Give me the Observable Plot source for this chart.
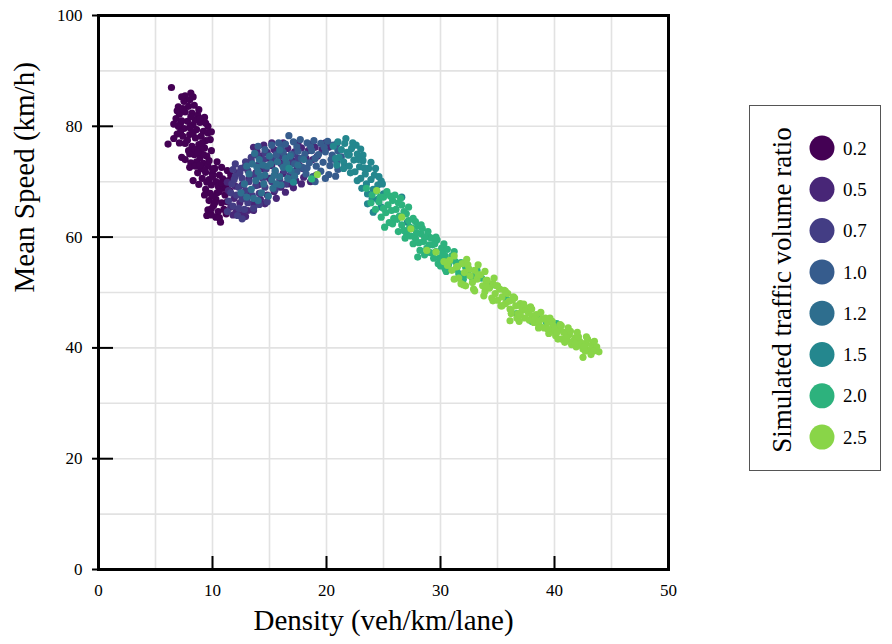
<!DOCTYPE html>
<html>
<head>
<meta charset="utf-8">
<script src="https://cdn.jsdelivr.net/npm/d3@7"></script>
<script src="https://cdn.jsdelivr.net/npm/@observablehq/plot@0.6"></script>
<style>
  html, body { margin: 0; padding: 0; background: #fff; }
  #wrap { position: relative; width: 892px; height: 644px; font-family: "Liberation Serif", "Times New Roman", serif; }
  #legend { position: absolute; left: 749px; top: 105px; }
  #chart svg text { font-family: "Liberation Serif", "Times New Roman", serif !important; }
</style>
</head>
<body>
<div id="wrap"><div id="chart"></div><div id="legend"></div></div>
<script>
// ---- data (density veh/km/lane, mean speed km/h) ----
const ratios = ["0.2", "0.5", "0.7", "1.0", "1.2", "1.5", "2.0", "2.5"];
const ratioValues = [0.2, 0.5, 0.7, 1.0, 1.2, 1.5, 2.0, 2.5];

const pts02 = [[6.4,87.0],[7.6,85.5],[7.5,84.5],[8.0,84.8],[7.9,83.6],[8.4,83.8],[7.1,82.2],[7.6,82.6],[8.2,82.4],[8.7,82.0],[6.8,81.4],
  [7.2,80.6],[7.8,80.9],[8.3,80.3],[8.9,80.7],[9.6,80.0],[7.5,79.6],[8.6,79.4],[9.2,79.1],[6.9,78.6],[7.4,78.2],[8.0,78.5],[8.5,77.9],[9.0,78.2],[9.6,78.8],
  [6.1,76.8],[7.6,76.9],[8.2,76.4],[8.8,76.7],[9.3,76.1],[7.9,75.6],[7.3,74.4],[8.4,74.9],[8.9,74.3],[9.5,74.6],[8.6,73.6],[9.2,73.3],
  [9.0,72.4],[9.6,72.8],[10.2,72.4],[10.8,72.6],[11.3,72.0],[8.7,71.6],[9.4,71.7],[10.0,71.5],[10.6,71.2],[8.3,70.2],[9.1,70.6],[9.7,70.4],[10.3,70.0],[10.9,70.5],[11.4,70.2],[9.9,69.4],[10.5,69.2],
  [9.4,68.6],[11.0,68.8],[9.8,67.9],[10.4,68.0],[11.1,67.6],[9.7,66.6],[10.3,66.8],[10.8,66.2],[10.1,65.7],[9.6,64.9],[10.5,64.6],[11.0,65.0],[9.5,63.9],[10.3,63.6],[10.7,62.7],
  [7.0,83.5],[8.1,86.0],[7.3,81.0],[8.5,81.2],[9.3,81.6],[7.0,80.0],[8.0,79.8],[9.4,80.6],[7.8,77.5],[8.3,78.9],[9.8,77.6],[6.6,77.8],[7.1,77.0],[8.5,75.8],[9.9,75.6],
  [7.6,74.0],[8.1,73.4],[9.7,73.8],[10.4,73.6],[8.0,72.6],[11.6,71.2],[9.5,69.9],[10.6,68.2],[10.0,67.4],[9.9,64.0],[10.6,63.5],[11.3,66.4],[11.2,69.2],[8.8,69.5],
  [10.0,72.3],[9.2,74.9],[8.1,81.7],[8.8,83.0],[7.2,79.0],[9.0,76.0],
  [7.3,85.3],[8.3,85.3],[6.9,82.8],[7.4,83.2],[8.9,81.4],[6.6,80.4],[8.2,75.2],[8.7,75.3],[9.4,77.4],[9.9,79.0],[9.1,77.0],[10.0,70.9],[10.8,69.8],
  [9.3,67.6],[10.2,66.2],[9.9,65.1],[11.5,68.4],[11.2,64.2],[8.5,72.8],[9.3,72.1],[8.0,75.0],[8.9,73.0]];

const pts05 = [[11.6,65.4],[12.1,64.6],[12.6,64.1],[13.1,64.8],[13.6,66.0],[14.2,66.8],[12.4,66.2],[11.9,67.0],[13.0,66.9],[14.8,67.6],[15.4,68.2],[16.0,69.0],[16.6,69.6],[17.3,70.2],[18.0,70.8],[11.4,68.4],[12.0,69.2],
  [12.2,71.6],[12.8,72.6],[13.4,73.8],[13.6,76.2],[14.2,74.6],[14.8,75.3],[15.4,75.8],[16.0,75.5],[16.6,76.0],[17.2,75.4],[17.8,76.1],[18.4,75.6],[19.0,76.2],[19.6,75.8],[16.3,74.6],[15.0,74.2],
  [12.6,69.4],[13.2,70.5],[13.8,71.6],[14.4,72.3],[15.2,72.9],[16.0,73.3],[17.0,73.8],[18.2,74.2],[19.2,74.6],[13.0,68.2],[14.0,69.4],[15.0,70.6],[16.2,71.5],[17.4,72.2],
  [11.8,64.0],[12.9,63.7],[13.6,64.8],[14.6,66.0],[15.6,67.0],[16.4,68.1],[17.1,68.9],[17.8,69.6],[18.6,70.0],[19.1,71.2],[12.5,67.9],[11.3,69.9],
  [13.9,75.5],[14.5,76.6],[15.2,77.0],[16.2,77.0],[17.5,76.9],[18.7,76.8],[19.9,77.0],[20.2,76.2],[18.8,74.0],[17.6,73.0]];

const pts07 = [[11.4,66.5],[11.8,65.6],[12.3,65.2],[11.6,68.0],[12.1,67.6],[12.6,66.9],[13.1,66.2],[11.7,69.6],[12.3,69.0],[12.9,68.4],[13.5,67.5],[14.1,67.9],
  [12.0,71.0],[12.6,70.6],[13.2,70.0],[13.8,69.3],[14.6,69.0],[12.5,72.4],[13.1,72.0],[13.7,71.2],[14.4,70.6],[15.2,70.0],[15.9,70.4],
  [13.3,73.5],[14.0,73.0],[14.7,72.3],[15.5,71.8],[16.3,72.0],[14.5,74.0],[15.3,73.9],[16.1,73.1],[16.9,73.5],[12.2,63.9],[12.8,65.0],[14.1,65.9],[17.5,74.2],[16.8,71.2],[15.6,75.0],[13.9,74.8],[12.0,73.2],
  [11.3,64.6],[12.6,63.3],[13.6,65.2],[14.8,66.4],[15.5,68.6],[16.4,69.6],[11.9,70.4],[12.4,71.6],[13.4,74.4],[14.6,75.2],[15.9,74.5],[17.2,75.0],[17.9,72.4],[12.9,73.6],[11.8,72.2]];

const pts10 = [[16.7,78.3],[15.2,76.6],[15.8,77.0],[16.4,76.8],[17.1,77.2],[17.7,77.6],[18.3,77.0],[18.9,77.4],[19.5,76.9],[20.1,77.3],[20.6,76.6],
  [15.6,74.8],[16.2,75.3],[16.9,74.9],[17.5,75.5],[18.1,75.0],[18.7,75.6],[19.3,74.9],[19.9,75.4],[20.5,74.8],[21.0,75.6],
  [16.5,73.0],[17.2,73.2],[17.9,72.6],[18.5,73.4],[19.1,72.8],[19.7,73.5],[20.3,72.9],[20.9,73.6],[18.2,71.4],[18.8,70.9],[19.5,71.9],[20.2,71.3],[21.0,72.2],[17.4,71.8],[14.6,75.8],[14.0,76.4],
  [16.0,76.1],[17.4,76.3],[18.6,76.3],[19.8,76.2],[20.9,76.8],[21.3,74.5],[20.8,71.0],[19.9,70.6],[19.0,70.0],[18.3,72.5],[20.4,74.0],[19.0,74.2],[17.8,74.2],[21.6,72.8],[16.8,70.4]];

const pts12 = [[12.8,69.6],[13.2,71.4],[13.4,68.6],[13.8,70.2],[13.9,72.6],[14.1,74.0],[14.3,68.0],[14.5,69.6],[14.6,71.2],[14.8,72.8],[15.0,74.6],[15.2,70.4],[15.3,68.8],[15.5,72.0],
  [15.7,73.6],[15.9,70.9],[16.0,69.4],[16.2,72.6],[16.4,74.2],[16.6,70.6],[13.5,73.2],[14.2,71.0],[15.1,73.2],[16.9,72.0],[13.0,67.2],[14.0,66.6],[17.5,73.0],[18.0,74.0],[12.5,68.0],
  [13.6,67.0],[14.9,67.4],[13.0,72.8],[13.7,75.1],[14.4,73.0],[15.6,69.6],[16.8,74.6],[17.2,71.0],[15.9,75.7],[14.0,71.8],[15.4,71.1],[16.5,73.3]];

const pts15 = [[20.6,76.4],[21.0,77.2],[21.3,75.8],[21.6,76.9],[21.1,74.4],[21.5,73.6],[21.9,74.8],[22.2,76.0],[22.0,72.8],[22.4,73.9],[22.7,75.0],[22.5,71.8],[22.9,72.7],[23.2,73.8],
  [23.0,70.6],[23.4,71.4],[23.7,72.4],[23.5,69.6],[23.9,70.4],[24.2,71.2],[24.1,68.6],[24.5,69.4],[24.8,70.1],[23.6,66.0],[24.1,64.5],[24.5,66.8],[22.3,77.0],[21.8,75.3],
  [26.6,67.2],[27.1,62.7],[16.7,72.4],[17.1,69.9],[25.0,67.8],[20.8,74.2],
  [21.7,77.8],[22.6,76.6],[23.0,75.9],[23.2,74.8],[23.9,73.5],[24.3,72.4],[24.6,70.9],[24.9,69.6],[22.1,71.6],[22.7,70.2],[23.1,68.8],[23.6,67.8],[24.0,66.9],[24.8,65.4],
  [21.5,72.4],[20.9,73.0],[22.8,74.0],[23.3,72.5],[22.0,74.9]];

const pts20 = [[23.5,68.8],[24.0,67.6],[24.4,68.3],[23.9,66.2],[24.6,66.4],[25.0,67.2],[25.4,65.8],[25.2,64.4],[25.8,66.6],[25.9,63.4],[26.1,65.0],[25.5,62.6],
  [26.4,63.8],[26.6,62.2],[26.8,64.6],[27.0,60.8],[27.2,63.0],[26.3,61.0],[27.5,61.6],[27.8,59.8],[28.0,62.0],[27.6,58.8],[28.3,60.6],
  [28.5,59.2],[28.8,58.0],[29.0,60.0],[28.6,56.8],[29.3,58.6],[29.6,57.4],[29.9,56.2],[30.1,58.0],[29.8,55.2],[30.4,56.6],[30.7,55.0],[31.0,56.6],[30.5,53.8],
  [31.4,54.2],[31.8,55.4],[32.1,53.2],[32.5,54.2],[32.8,52.6],[33.6,52.6],[34.4,51.2],[35.8,48.8],[36.7,46.2],[37.6,46.9],[38.6,45.8],[39.3,44.6],[40.2,44.4],[38.0,44.8],
  [33.2,54.0],[30.4,54.3],[18.7,70.5],
  [24.3,65.0],[24.8,63.6],[25.3,68.2],[25.7,64.8],[26.0,67.6],[26.3,66.2],[26.6,65.8],[27.0,64.2],[27.3,61.8],[27.6,63.4],[27.9,60.8],[28.1,59.0],[28.4,61.6],[28.2,57.6],
  [28.9,61.0],[29.2,59.8],[29.5,58.8],[29.1,57.2],[29.7,59.5],[30.2,57.0],[30.6,57.8],[30.0,54.8],[31.3,55.6],[31.6,53.4],[32.2,54.6],[32.0,52.4],[25.1,61.8],[26.9,59.8],[28.0,56.4],
  [24.7,67.2],[25.0,65.2],[25.6,67.4],[25.8,62.4],[26.2,63.2],[26.5,67.0],[26.8,61.2],[27.2,65.4],[27.4,60.2],[27.8,62.8],[28.3,62.2],[28.6,60.0],[29.0,58.6],[29.4,56.2],
  [29.6,60.0],[30.3,58.8],[31.2,57.4],[32.4,53.4],[33.0,53.2]];

const pts25 = [[19.2,71.3],[24.4,68.4],[26.6,63.6],[27.4,61.5],[28.8,57.6],[29.6,57.3],[30.6,54.9],[31.5,54.7],
  [30.8,55.8],[31.2,56.6],[31.4,54.6],[31.6,52.6],[31.9,55.2],[32.1,53.6],[32.4,55.0],[32.6,53.0],[32.8,51.8],[33.0,54.0],[33.2,52.4],
  [33.5,53.2],[33.7,51.2],[33.9,50.2],[34.1,52.2],[34.3,50.8],[34.6,51.6],[34.8,49.8],[35.0,48.6],[35.2,50.6],[35.4,49.2],
  [35.7,48.0],[35.9,49.8],[36.1,47.0],[36.3,48.6],[36.6,47.6],[36.8,46.2],[37.0,48.0],[37.2,46.8],[37.4,45.4],[36.9,44.8],
  [37.7,46.4],[38.0,45.8],[38.2,44.6],[38.4,46.0],[38.7,44.0],[38.9,45.2],[39.1,43.6],[39.4,44.6],[39.7,43.0],[39.9,44.0],[40.1,42.2],[40.4,43.4],
  [40.6,41.6],[40.8,42.8],[41.1,41.4],[41.3,42.4],[41.5,40.6],[41.8,41.8],[42.0,40.4],[42.2,41.2],[42.5,39.8],[42.5,38.3],
  [42.8,40.8],[43.0,39.6],[43.3,40.4],[43.6,39.8],[43.9,39.3],
  [31.0,54.0],[31.8,51.6],[32.0,51.4],[32.3,56.0],[32.9,50.6],[33.3,55.0],[33.9,53.8],[34.0,51.4],[34.5,49.0],[34.7,52.6],[35.0,51.2],[35.3,47.6],[35.6,50.4],[36.0,48.4],
  [36.2,46.2],[36.5,49.0],[36.7,45.4],[37.1,47.4],[37.5,47.2],[37.8,45.0],[37.9,47.4],[38.3,45.2],[38.6,43.6],[38.8,46.4],[39.2,45.4],[39.5,42.6],[39.8,44.8],[40.0,43.4],
  [40.3,41.6],[40.6,44.0],[40.9,41.0],[41.0,42.6],[41.4,43.0],[41.6,41.2],[41.9,40.2],[42.1,42.0],[42.4,40.8],[42.7,39.4],[42.9,41.6],[43.2,38.8],[43.4,41.0],[43.7,40.2],[36.1,44.9],
  [31.2,52.4],[32.2,51.2],[32.5,54.2],[33.0,50.3],[33.3,53.2],[33.8,49.4],[34.0,52.2],[34.6,48.5],[34.9,51.2],[35.4,47.6],[35.7,50.2],[36.2,46.7],[36.4,49.2],
  [37.0,45.9],[37.3,47.9],[38.0,47.0],[38.6,44.8],[39.4,43.4],[39.6,45.4],[40.2,42.8],[40.5,44.2],[41.0,41.8],[41.2,43.6],[41.8,40.8],[42.0,42.8],
  [42.6,40.2],[42.8,42.0],[43.4,39.4],[43.5,41.2],[30.3,55.6]];

const xTicks = [0, 10, 20, 30, 40, 50];
const yTicks = [0, 20, 40, 60, 80, 100];
const xGrid = [0, 5, 10, 15, 20, 25, 30, 35, 40, 45, 50];
const yGrid = [0, 10, 20, 30, 40, 50, 60, 70, 80, 90, 100];
const xLabel = "Density (veh/km/lane)";
const yLabel = "Mean Speed (km/h)";
const legendTitle = "Simulated traffic volume ratio";

// ---- build table ----
const series = [pts02, pts05, pts07, pts10, pts12, pts15, pts20, pts25];
const rows = series.flatMap((pts, i) => pts.map(([d, s]) => ({density: d, speed: s, ratio: ratios[i]})));
const colors = ratioValues.map(v => d3.interpolateViridis((v - 0.2) / 2.8));
const serif = "Liberation Serif, Times New Roman, serif";

const chart = Plot.plot({
  width: 892,
  height: 644,
  marginLeft: 98,
  marginRight: 224,
  marginTop: 15,
  marginBottom: 75,
  style: {fontFamily: serif, fontSize: "17px", color: "black", background: "white"},
  x: {domain: [0, 50]},
  y: {domain: [0, 100]},
  color: {type: "ordinal", domain: ratios, range: colors},
  marks: [
    Plot.gridX(xGrid, {stroke: "#e2e2e2", strokeOpacity: 1, strokeWidth: 1.6}),
    Plot.gridY(yGrid, {stroke: "#e2e2e2", strokeOpacity: 1, strokeWidth: 1.6}),
    Plot.dot(rows, {x: "density", y: "speed", fill: "ratio", r: 3.6}),
    Plot.frame({stroke: "black", strokeWidth: 3}),
    Plot.axisY(yTicks, {tickSize: 6, tickPadding: 10, label: null, strokeWidth: 2, fontSize: 17}),
    Plot.axisY(yTicks, {tickSize: -15, tickFormat: () => "", label: null, strokeWidth: 2}),
    Plot.axisX(xTicks, {tickSize: 0, tickPadding: 14, label: null, fontSize: 17}),
    Plot.axisX(xTicks, {tickSize: -13, tickFormat: () => "", label: null, strokeWidth: 2}),
    Plot.text([xLabel], {text: d => d, frameAnchor: "bottom", dy: 60, fontSize: 29}),
    Plot.text([yLabel], {text: d => d, frameAnchor: "left", rotate: -90, dx: -74, fontSize: 29})
  ]
});
document.getElementById("chart").appendChild(chart);

// ---- legend ----
const lw = 132, lh = 366;
const lsvg = d3.select("#legend").append("svg")
  .attr("width", lw).attr("height", lh)
  .style("font-family", serif);
lsvg.append("rect").attr("x", 0.5).attr("y", 0.5).attr("width", lw - 1).attr("height", lh - 1)
  .attr("fill", "white").attr("stroke", "#555").attr("stroke-width", 1);
lsvg.append("text")
  .attr("transform", `translate(33,${lh / 2 + 2}) rotate(-90)`)
  .attr("text-anchor", "middle").attr("dominant-baseline", "central")
  .attr("font-size", 27).attr("fill", "black")
  .text(legendTitle);
const items = lsvg.selectAll("g.item").data(ratios).join("g")
  .attr("transform", (d, i) => `translate(73,${43 + i * 41.3})`);
items.append("circle").attr("r", 12.5).attr("fill", (d, i) => colors[i]);
items.append("text").attr("x", 21).attr("dy", "0.35em").attr("font-size", 19).attr("fill", "black").text(d => d);
</script>
</body>
</html>
